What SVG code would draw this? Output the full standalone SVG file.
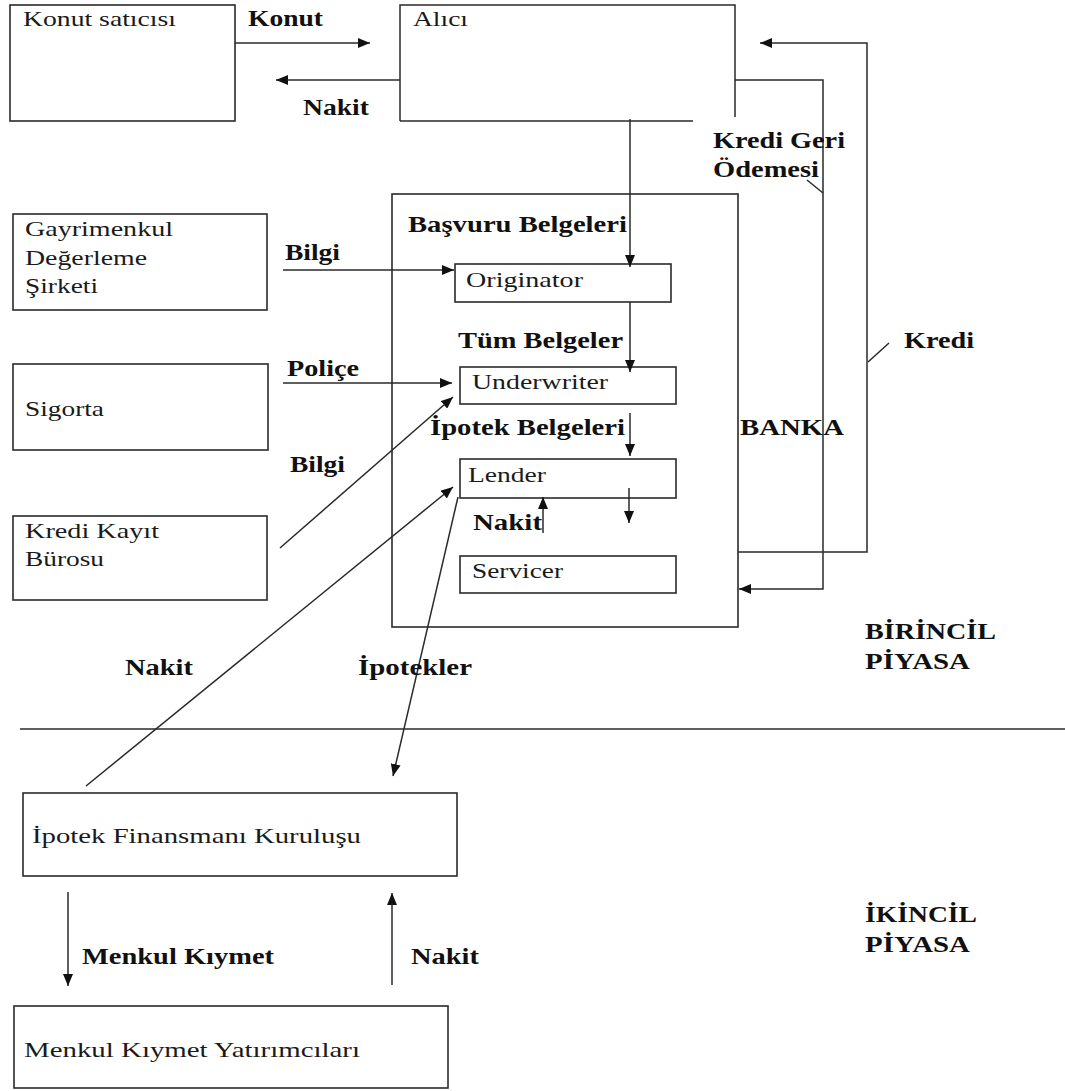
<svg xmlns="http://www.w3.org/2000/svg" width="1065" height="1091" viewBox="0 0 1065 1091">
<style>
.box{fill:#fff;stroke:#2a2a2a;stroke-width:1.6}
.ln{fill:none;stroke:#2a2a2a;stroke-width:1.5}
.t{font-family:"Liberation Serif","Times New Roman",serif;font-size:21px;fill:#1a1a1a}
.b{font-family:"Liberation Serif","Times New Roman",serif;font-size:23px;font-weight:bold;fill:#111}
</style>
<defs>
<marker id="ah" viewBox="0 0 12 10" refX="12" refY="5" markerWidth="12" markerHeight="10" markerUnits="userSpaceOnUse" orient="auto">
<path d="M0,0 L12,5 L0,10 z" fill="#111"/>
</marker>
</defs>
<rect width="1065" height="1091" fill="#fff"/>

<g id="konut-saticisi"><rect class="box" x="10" y="5" width="225" height="116"/><text class="t" x="23" y="26" textLength="153" lengthAdjust="spacingAndGlyphs">Konut satıcısı</text></g>
<g id="alici"><path class="ln" d="M400,121 V5 H735 V117 M400,121 H693"/><text class="t" x="413" y="26" textLength="55" lengthAdjust="spacingAndGlyphs">Alıcı</text></g>
<g id="gayrimenkul"><rect class="box" x="13" y="214" width="254" height="96"/>
<text class="t" x="25" y="236" textLength="148" lengthAdjust="spacingAndGlyphs">Gayrimenkul</text>
<text class="t" x="25" y="265" textLength="122" lengthAdjust="spacingAndGlyphs">Değerleme</text>
<text class="t" x="25" y="293" textLength="73" lengthAdjust="spacingAndGlyphs">Şirketi</text></g>
<g id="sigorta"><rect class="box" x="13" y="364" width="255" height="86"/><text class="t" x="25" y="416" textLength="79" lengthAdjust="spacingAndGlyphs">Sigorta</text></g>
<g id="kredi-kayit"><rect class="box" x="13" y="516" width="254" height="84"/>
<text class="t" x="25" y="538" textLength="134" lengthAdjust="spacingAndGlyphs">Kredi Kayıt</text>
<text class="t" x="25" y="566" textLength="79" lengthAdjust="spacingAndGlyphs">Bürosu</text></g>
<g id="banka"><rect class="box" x="392" y="194" width="346" height="433"/>
<text class="b" x="408" y="232" textLength="219" lengthAdjust="spacingAndGlyphs">Başvuru Belgeleri</text>
<text class="b" x="458" y="348" textLength="165" lengthAdjust="spacingAndGlyphs">Tüm Belgeler</text>
<text class="b" x="430" y="435" textLength="195" lengthAdjust="spacingAndGlyphs">İpotek Belgeleri</text>
<text class="b" x="740" y="435" textLength="104" lengthAdjust="spacingAndGlyphs">BANKA</text></g>
<g id="originator"><rect class="box" x="455" y="264" width="216" height="38"/><text class="t" x="466" y="287" textLength="117" lengthAdjust="spacingAndGlyphs">Originator</text></g>
<g id="underwriter"><rect class="box" x="460" y="367" width="216" height="37"/><text class="t" x="472" y="389" textLength="136" lengthAdjust="spacingAndGlyphs">Underwriter</text></g>
<g id="lender"><rect class="box" x="460" y="459" width="216" height="39"/><text class="t" x="468" y="482" textLength="78" lengthAdjust="spacingAndGlyphs">Lender</text></g>
<g id="servicer"><rect class="box" x="460" y="556" width="216" height="37"/><text class="t" x="472" y="578" textLength="91" lengthAdjust="spacingAndGlyphs">Servicer</text></g>
<g id="ipotek-finansmani"><rect class="box" x="23" y="793" width="434" height="83"/><text class="t" x="32" y="843" textLength="329" lengthAdjust="spacingAndGlyphs">İpotek Finansmanı Kuruluşu</text></g>
<g id="menkul-yatirimcilari"><rect class="box" x="14" y="1006" width="434" height="82"/><text class="t" x="24" y="1057" textLength="336" lengthAdjust="spacingAndGlyphs">Menkul Kıymet Yatırımcıları</text></g>

<g id="connectors">
<line class="ln" x1="235" y1="43" x2="370" y2="43" marker-end="url(#ah)"/>
<line class="ln" x1="400" y1="80" x2="276" y2="80" marker-end="url(#ah)"/>
<line class="ln" x1="630" y1="119" x2="630" y2="267" marker-end="url(#ah)"/>
<path class="ln" d="M735,80 H823 V589 H739" marker-end="url(#ah)"/>
<line class="ln" x1="807" y1="180" x2="823" y2="193"/>
<path class="ln" d="M738,552 H867 V43 H760" marker-end="url(#ah)"/>
<line class="ln" x1="868" y1="362" x2="889" y2="343"/>
<line class="ln" x1="283" y1="270" x2="454" y2="270" marker-end="url(#ah)"/>
<line class="ln" x1="630" y1="302" x2="630" y2="372" marker-end="url(#ah)"/>
<line class="ln" x1="283" y1="383" x2="452" y2="383" marker-end="url(#ah)"/>
<line class="ln" x1="280" y1="548" x2="453" y2="397" marker-end="url(#ah)"/>
<line class="ln" x1="630" y1="413" x2="630" y2="456" marker-end="url(#ah)"/>
<line class="ln" x1="86" y1="786" x2="453" y2="487" marker-end="url(#ah)"/>
<line class="ln" x1="543" y1="533" x2="543" y2="497" marker-end="url(#ah)"/>
<line class="ln" x1="629" y1="488" x2="629" y2="523" marker-end="url(#ah)"/>
<line class="ln" x1="458" y1="497" x2="393" y2="776" marker-end="url(#ah)"/>
<line class="ln" x1="20" y1="729" x2="1065" y2="729"/>
<line class="ln" x1="68" y1="892" x2="68" y2="986" marker-end="url(#ah)"/>
<line class="ln" x1="392" y1="985" x2="392" y2="893" marker-end="url(#ah)"/>
</g>

<g id="labels">
<text class="b" x="248" y="26" textLength="75" lengthAdjust="spacingAndGlyphs">Konut</text>
<text class="b" x="303" y="115" textLength="66" lengthAdjust="spacingAndGlyphs">Nakit</text>
<text class="b" x="713" y="148" textLength="132" lengthAdjust="spacingAndGlyphs">Kredi Geri</text>
<text class="b" x="713" y="177" textLength="106" lengthAdjust="spacingAndGlyphs">Ödemesi</text>
<text class="b" x="285" y="260" textLength="55" lengthAdjust="spacingAndGlyphs">Bilgi</text>
<text class="b" x="287" y="376" textLength="72" lengthAdjust="spacingAndGlyphs">Poliçe</text>
<text class="b" x="904" y="348" textLength="70" lengthAdjust="spacingAndGlyphs">Kredi</text>
<text class="b" x="290" y="472" textLength="55" lengthAdjust="spacingAndGlyphs">Bilgi</text>
<text class="b" x="473" y="530" textLength="69" lengthAdjust="spacingAndGlyphs">Nakit</text>
<text class="b" x="865" y="639" textLength="131" lengthAdjust="spacingAndGlyphs">BİRİNCİL</text>
<text class="b" x="865" y="669" textLength="105" lengthAdjust="spacingAndGlyphs">PİYASA</text>
<text class="b" x="125" y="675" textLength="68" lengthAdjust="spacingAndGlyphs">Nakit</text>
<text class="b" x="358" y="675" textLength="114" lengthAdjust="spacingAndGlyphs">İpotekler</text>
<text class="b" x="82" y="964" textLength="192" lengthAdjust="spacingAndGlyphs">Menkul Kıymet</text>
<text class="b" x="411" y="964" textLength="68" lengthAdjust="spacingAndGlyphs">Nakit</text>
<text class="b" x="865" y="922" textLength="112" lengthAdjust="spacingAndGlyphs">İKİNCİL</text>
<text class="b" x="865" y="952" textLength="105" lengthAdjust="spacingAndGlyphs">PİYASA</text>
</g>
</svg>
